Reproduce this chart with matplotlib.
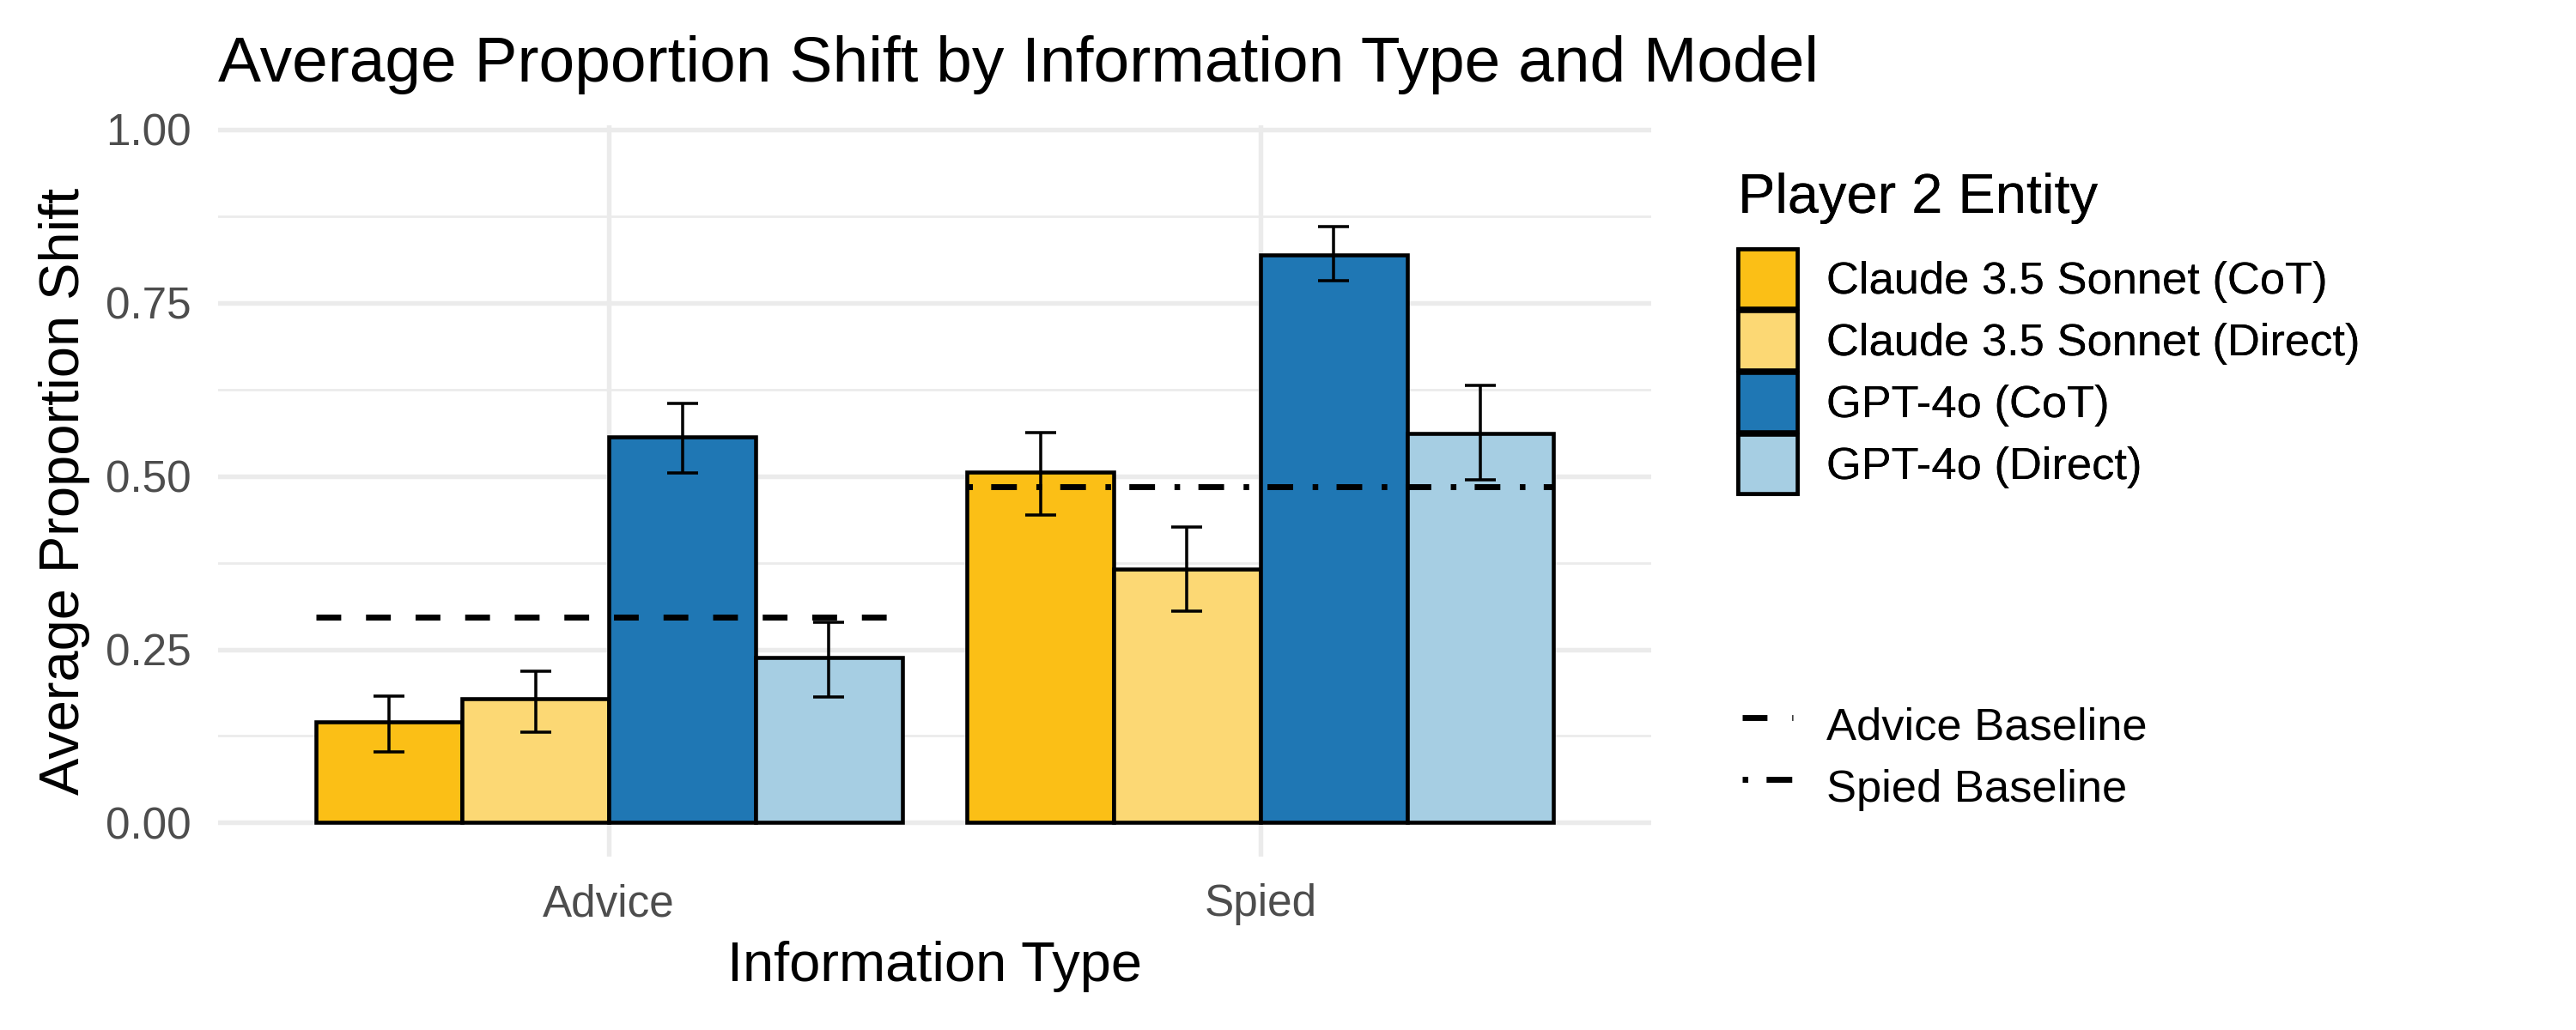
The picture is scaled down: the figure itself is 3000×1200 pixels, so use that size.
import matplotlib
matplotlib.use("Agg")
import matplotlib.pyplot as plt
from matplotlib.patches import Patch
from matplotlib.lines import Line2D
import numpy as np

plt.rcParams['font.family'] = ['Liberation Sans', 'DejaVu Sans']

# ---------------- data ----------------
info_types = ["Advice", "Spied"]
models = ["Claude 3.5 Sonnet (CoT)", "Claude 3.5 Sonnet (Direct)",
          "GPT-4o (CoT)", "GPT-4o (Direct)"]
colors = ["#FBBF16", "#FCD874", "#1F77B4", "#A6CEE3"]

claude_cot_mean = [0.145, 0.506]
claude_cot_lo = [0.102, 0.444]
claude_cot_hi = [0.183, 0.563]

claude_direct_mean = [0.179, 0.366]
claude_direct_lo = [0.130, 0.305]
claude_direct_hi = [0.219, 0.426]

gpt_cot_mean = [0.557, 0.819]
gpt_cot_lo = [0.505, 0.782]
gpt_cot_hi = [0.605, 0.860]

gpt_direct_mean = [0.238, 0.561]
gpt_direct_lo = [0.181, 0.495]
gpt_direct_hi = [0.289, 0.631]

baseline_labels = ["Advice Baseline", "Spied Baseline"]
baseline_values = [0.296, 0.485]

y_ticks = [0.0, 0.25, 0.50, 0.75, 1.00]
y_ticklabels = ["0.00", "0.25", "0.50", "0.75", "1.00"]

means = [claude_cot_mean, claude_direct_mean, gpt_cot_mean, gpt_direct_mean]
los = [claude_cot_lo, claude_direct_lo, gpt_cot_lo, gpt_direct_lo]
his = [claude_cot_hi, claude_direct_hi, gpt_cot_hi, gpt_direct_hi]

# ---------------- figure ----------------
W, H = 3000, 1200
DPI = 300
fig = plt.figure(figsize=(W / DPI, H / DPI), dpi=DPI)
pl, pr, pt, pb = 254, 1923, 146, 998
ax = fig.add_axes([pl / W, 1 - pb / H, (pr - pl) / W, (pb - pt) / H])

x = np.arange(1, len(info_types) + 1)
dodge = 0.9
bw = dodge / len(models)

for i, (m, c) in enumerate(zip(models, colors)):
    xs = x - dodge / 2 + bw * (i + 0.5)
    mu = np.array(means[i]); lo = np.array(los[i]); hi = np.array(his[i])
    ax.bar(xs, mu, width=bw, color=c, edgecolor='black', linewidth=1.1, zorder=3)
    ax.errorbar(xs, mu, yerr=[mu - lo, hi - mu], fmt='none', ecolor='black',
                elinewidth=0.85, capsize=4.4, capthick=0.85, zorder=4)

dash_styles = [(0, (4.2, 4.2)), (0, (0.95, 3.1, 4.35, 3.3))]
for j, (val, ls) in enumerate(zip(baseline_values, dash_styles)):
    ax.hlines(val, x[j] - dodge / 2, x[j] + dodge / 2, colors='black',
              linewidth=1.65, linestyles=[ls], zorder=5, capstyle='butt')

ax.set_xlim(0.4, 2.6)
ax.set_ylim(-0.049, 1.006)
ax.set_yticks(y_ticks)
ax.set_yticklabels(y_ticklabels)
ax.set_yticks([0.125, 0.375, 0.625, 0.875], minor=True)
ax.set_xticks(x)
ax.set_xticklabels(info_types)

ax.grid(which='major', axis='both', color='#EBEBEB', linewidth=1.3, zorder=0)
ax.grid(which='minor', axis='y', color='#EBEBEB', linewidth=0.65, zorder=0)
ax.set_axisbelow(True)
for s in ax.spines.values():
    s.set_visible(False)
ax.tick_params(which='both', length=0)
ax.tick_params(axis='y', labelsize=12.3, labelcolor='#4D4D4D', pad=7.5)
ax.tick_params(axis='x', labelsize=12.3, labelcolor='#4D4D4D', pad=7.5)

ax.set_xlabel("Information Type", fontsize=15.6, labelpad=4.3)
ax.set_ylabel("Average Proportion Shift", fontsize=15.6, labelpad=4.4)

fig.text(pl / W, 1 - 95 / H, "Average Proportion Shift by Information Type and Model",
         fontsize=18, ha='left', va='baseline')

# ---------------- legends ----------------
fs = 12.6
fs_px = fs * DPI / 72
key_px = 69
hh = (key_px / fs_px - 0.245) / 0.65
handles = [Patch(facecolor=c, edgecolor='black', linewidth=1.1) for c in colors]
leg1 = fig.legend(handles, models, title="Player 2 Entity", loc='upper left',
                  bbox_to_anchor=(2024 / W, 1 - 201 / H), frameon=False,
                  fontsize=fs, title_fontsize=15.6, handlelength=key_px / fs_px,
                  handleheight=hh, labelspacing=3 / fs_px,
                  handletextpad=34 / fs_px, borderpad=0, borderaxespad=0,
                  alignment='left')
leg1._legend_box.sep = 7.0

line_handles = [Line2D([0], [0], color='black', linewidth=1.65, linestyle=ls,
                       solid_capstyle='butt', dash_capstyle='butt')
                for ls in dash_styles]
leg2 = fig.legend(line_handles, baseline_labels, loc='upper left',
                  bbox_to_anchor=(2029 / W, 1 - 810 / H), frameon=False,
                  fontsize=fs, handlelength=59 / fs_px, handleheight=hh,
                  labelspacing=3 / fs_px, handletextpad=39 / fs_px,
                  borderpad=0, borderaxespad=0)
fig.add_artist(leg1)

fig.savefig("out.png", dpi=DPI)
